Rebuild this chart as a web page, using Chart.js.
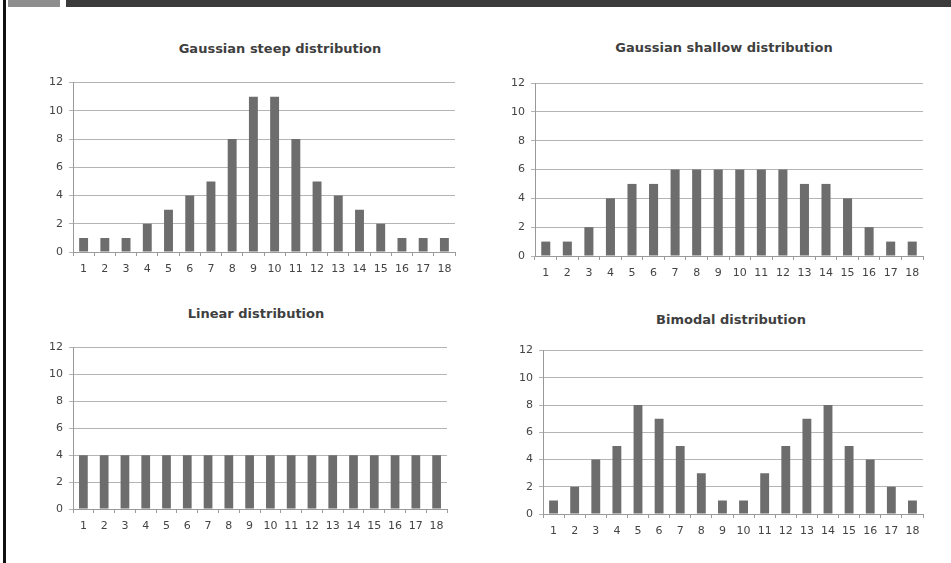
<!DOCTYPE html>
<html lang="en">
<head>
<meta charset="UTF-8">
<title>Distributions</title>
<script src="https://cdn.jsdelivr.net/npm/chart.js"></script>
<style>
  body { margin: 0; width: 951px; height: 563px; background: #fff; position: relative; overflow: hidden; font-family: "DejaVu Sans", sans-serif; }
  .bar-dark { position: absolute; left: 66px; top: 0; width: 885px; height: 7px; background: #3b3b3b; }
  .bar-gray { position: absolute; left: 8px; top: 0; width: 52px; height: 7px; background: #8e8e8e; }
  .border-left { position: absolute; left: 3px; top: 0; width: 3px; height: 563px; background: #111; }
  .title { position: absolute; transform: translate(-50%, -50%); font-weight: bold; font-size: 13px; color: #3f3f3f; white-space: nowrap; }
  .box { position: absolute; }
</style>
</head>
<body>
<div class="border-left"></div>
<div class="bar-gray"></div>
<div class="bar-dark"></div>

<div class="title" style="left:280px; top:48px;">Gaussian steep distribution</div>
<div class="title" style="left:724px; top:47px;">Gaussian shallow distribution</div>
<div class="title" style="left:256px; top:313px;">Linear distribution</div>
<div class="title" style="left:731px; top:319px;">Bimodal distribution</div>

<div class="box" style="left:20px; top:70px; width:445px; height:205px;"><canvas id="c1"></canvas></div>
<div class="box" style="left:480px; top:70px; width:455px; height:210px;"><canvas id="c2"></canvas></div>
<div class="box" style="left:20px; top:335px; width:440px; height:200px;"><canvas id="c3"></canvas></div>
<div class="box" style="left:480px; top:338px; width:455px; height:200px;"><canvas id="c4"></canvas></div>

<script>
const categories = ['1','2','3','4','5','6','7','8','9','10','11','12','13','14','15','16','17','18'];
const steep   = [1,1,1,2,3,4,5,8,11,11,8,5,4,3,2,1,1,1];
const shallow = [1,1,2,4,5,5,6,6,6,6,6,6,5,5,4,2,1,1];
const linear  = [4,4,4,4,4,4,4,4,4,4,4,4,4,4,4,4,4,4];
const bimodal = [1,2,4,5,8,7,5,3,1,1,3,5,7,8,5,4,2,1];
const yTicks  = [0,2,4,6,8,10,12];

function makeChart(id, values, yWidth, xHeight, padTop, padRight) {
  return new Chart(document.getElementById(id), {
    type: 'bar',
    data: {
      labels: categories,
      datasets: [{ data: values, backgroundColor: '#6d6d6d', barPercentage: 0.42, categoryPercentage: 1.0 }]
    },
    options: {
      responsive: true,
      maintainAspectRatio: false,
      animation: false,
      layout: { padding: { top: padTop, right: padRight, left: 0, bottom: 0 } },
      plugins: { legend: { display: false }, tooltip: { enabled: false }, title: { display: false } },
      scales: {
        x: {
          offset: true,
          grid: { offset: true, drawOnChartArea: false, drawTicks: true, tickLength: 4, color: '#9a9a9a' },
          border: { color: '#9a9a9a' },
          ticks: { color: '#444444', font: { family: 'DejaVu Sans', size: 11 }, padding: 7, maxRotation: 0, autoSkip: false },
          afterFit: function (s) { s.height = xHeight; }
        },
        y: {
          min: 0, max: 12,
          afterBuildTicks: function (s) { s.ticks = yTicks.map(v => ({ value: v })); },
          grid: { color: '#b4b4b4', tickLength: 4 },
          border: { color: '#9a9a9a' },
          ticks: { color: '#444444', font: { family: 'DejaVu Sans', size: 11 }, padding: 6 },
          afterFit: function (s) { s.width = yWidth; }
        }
      }
    }
  });
}

makeChart('c1', steep, 53, 23, 12, 10);
makeChart('c2', shallow, 55, 24, 13, 12);
makeChart('c3', linear, 53, 26, 12, 13);
makeChart('c4', bimodal, 63, 24, 12, 12);
</script>
</body>
</html>
